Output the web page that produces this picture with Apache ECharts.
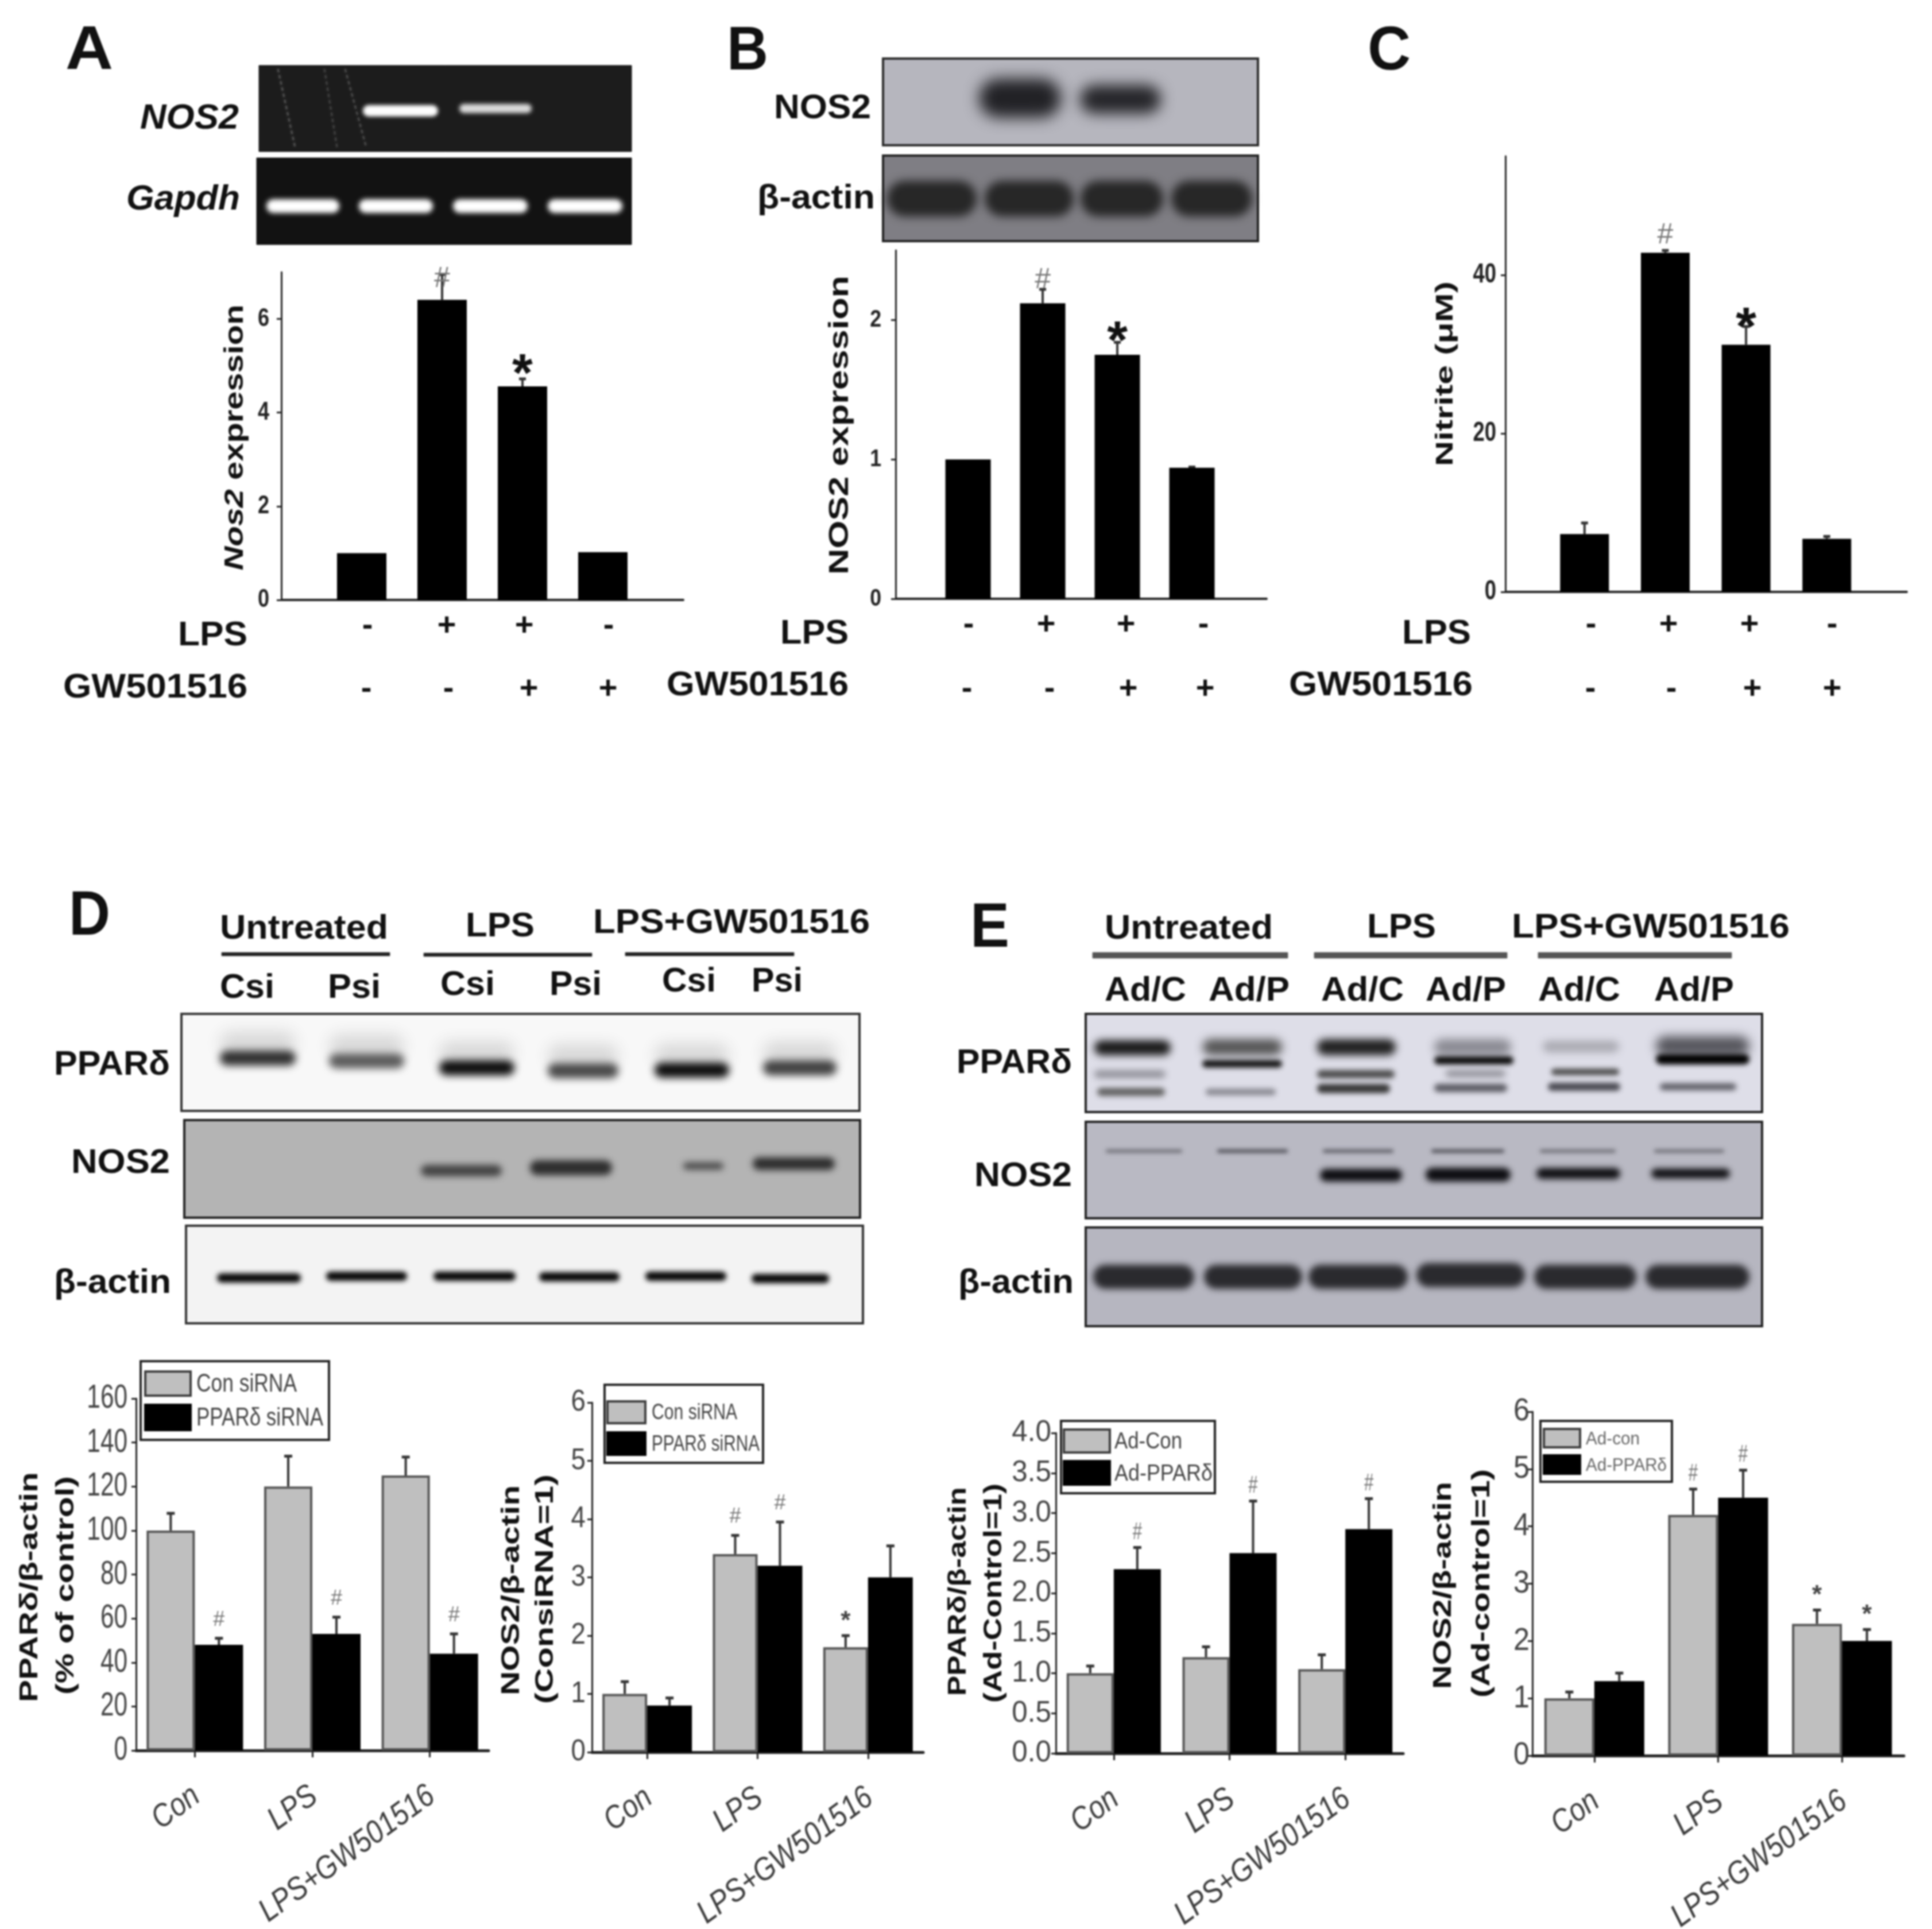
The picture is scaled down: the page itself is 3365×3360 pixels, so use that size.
<!DOCTYPE html>
<html>
<head>
<meta charset="utf-8">
<title>NOS2 figure</title>
<script src="https://cdn.jsdelivr.net/npm/echarts@6/dist/echarts.min.js"></script>
<style>
  html, body { margin: 0; padding: 0; background: #fff; }
  #main { width: 3365px; height: 3360px; }
  /* the source figure is an upscaled, soft image */
  #main canvas { filter: blur(1.4px); }
</style>
</head>
<body>
<div id="main"></div>
<script>
// values
const groupNames = ['Con', 'LPS', 'LPS+GW501516'];
const lpsSigns = ['-', '+', '+', '-'];
const gwSigns = ['-', '-', '+', '+'];

const nos2mrna = [1, 6.41, 4.56, 1.02];
const nos2mrnaErr = [1, 6.95, 4.72, 1.02];
const nos2mrnaMarks = ['', '#', '*', ''];
const nos2mrnaTicks = [0, 2, 4, 6];

const nos2prot = [1, 2.12, 1.75, 0.94];
const nos2protErr = [1, 2.22, 1.84, 0.945];
const nos2protMarks = ['', '#', '*', ''];
const nos2protTicks = [0, 1, 2];

const nitrite = [7.3, 42.8, 31.2, 6.7];
const nitriteErr = [8.7, 43.1, 33.5, 7.0];
const nitriteMarks = ['', '#', '*', ''];
const nitriteTicks = [0, 20, 40];

const d1Con = [100, 120, 125];
const d1ConErr = [107.8, 133.8, 133.4];
const d1Ppar = [48, 53, 44];
const d1ParErr = [51, 60.6, 53];
const d1ParMarks = ['#', '#', '#'];
const d1Ticks = [0, 20, 40, 60, 80, 100, 120, 140, 160];

const d2Con = [1, 3.4, 1.8];
const d2ConErr = [1.21, 3.72, 2.0];
const d2ConMarks = ['', '#', '*'];
const d2Ppar = [0.8, 3.2, 3.0];
const d2ParErr = [0.93, 3.95, 3.54];
const d2ParMarks = ['', '#', ''];
const d2Ticks = [0, 1, 2, 3, 4, 5, 6];

const e1Con = [1, 1.2, 1.05];
const e1ConErr = [1.09, 1.33, 1.23];
const e1Ppar = [2.3, 2.5, 2.8];
const e1ParErr = [2.57, 3.15, 3.18];
const e1ParMarks = ['#', '#', '#'];
const e1Ticks = [0, 0.5, 1, 1.5, 2, 2.5, 3, 3.5, 4];

const e2Con = [1, 4.2, 2.3];
const e2ConErr = [1.11, 4.65, 2.54];
const e2ConMarks = ['', '#', '*'];
const e2Ppar = [1.3, 4.5, 2.0];
const e2ParErr = [1.44, 4.98, 2.2];
const e2ParMarks = ['', '#', '*'];
const e2Ticks = [0, 1, 2, 3, 4, 5, 6];

const SANS = '"Liberation Sans", Arial, sans-serif';
const OFF = 6000; // band rect sits off canvas, only its blurred shadow shows

const ctx = document.createElement('canvas').getContext('2d');
const graphics = [];

// text stretched to the width it has in the figure
function label(str, x1, x2, cy, o) {
  o = o || {};
  const size = o.size || 60;
  const font = (o.italic ? 'italic ' : '') + (o.weight || 'bold') + ' ' + size + 'px ' + SANS;
  ctx.font = font;
  const w = ctx.measureText(str).width;
  graphics.push({
    type: 'text', silent: true, z: 20,
    x: (x1 + x2) / 2, y: cy + 4, scaleX: (x2 - x1) / w, rotation: 0,
    style: { text: str, font: font, fill: o.color || '#111', align: 'center', verticalAlign: 'middle' }
  });
}

// rotated y title, y1 is the top end
function vlabel(str, cx, y1, y2, size, color) {
  const font = 'bold ' + size + 'px ' + SANS;
  ctx.font = font;
  const w = ctx.measureText(str).width;
  graphics.push({
    type: 'text', silent: true, z: 20,
    x: cx, y: (y1 + y2) / 2, scaleX: (y2 - y1) / w, rotation: Math.PI / 2,
    style: { text: str, font: font, fill: color || '#111', align: 'center', verticalAlign: 'middle' }
  });
}

function box(x1, y1, x2, y2, fill, stroke, lw, z) {
  graphics.push({
    type: 'rect', silent: true, z: z || 1,
    shape: { x: x1, y: y1, width: x2 - x1, height: y2 - y1 },
    style: { fill: fill, stroke: stroke === undefined ? '#222' : stroke, lineWidth: lw === undefined ? 4 : lw }
  });
}

// one gel band: only the blurred shadow of a rounded bar
function band(x1, x2, yc, h, color, blur, alpha) {
  graphics.push({
    type: 'rect', silent: true, z: 2,
    shape: { x: x1 - OFF, y: yc - h / 2, width: x2 - x1, height: h, r: h / 2 },
    style: {
      fill: color, shadowBlur: blur === undefined ? 12 : blur, shadowColor: color,
      shadowOffsetX: OFF, opacity: alpha === undefined ? 1 : alpha
    }
  });
}

function streak(x1, y1, x2, y2, color) {
  graphics.push({
    type: 'line', silent: true, z: 2,
    shape: { x1: x1, y1: y1, x2: x2, y2: y2 },
    style: { stroke: color, lineWidth: 3, lineDash: [6, 5], shadowBlur: 4, shadowColor: color }
  });
}

function hline(x1, x2, y, lw, color) {
  graphics.push({
    type: 'rect', silent: true, z: 3,
    shape: { x: x1, y: y - lw / 2, width: x2 - x1, height: lw },
    style: { fill: color, shadowBlur: 2, shadowColor: color }
  });
}

function signRow(signs, xs, y) {
  signs.forEach(function (s, i) {
    graphics.push({
      type: 'text', silent: true, z: 20, x: xs[i], y: y,
      style: { text: s, font: 'bold 56px ' + SANS, fill: '#111', align: 'center', verticalAlign: 'middle' }
    });
  });
}

function drawLegend(o) {
  box(o.box[0], o.box[1], o.box[2], o.box[3], '#fff', '#222', 4, 15);
  o.rows.forEach(function (r, i) {
    graphics.push({
      type: 'rect', silent: true, z: 16,
      shape: { x: o.swatch[0], y: r[0], width: o.swatch[1] - o.swatch[0], height: r[1] - r[0] },
      style: i === 0 ? { fill: '#bfbfbf', stroke: '#3c3c3c', lineWidth: 4 } : { fill: '#000', stroke: '#000', lineWidth: 4 }
    });
    label(o.names[i], o.textX, o.textEnd[i], (r[0] + r[1]) / 2 - 2, { size: o.size, weight: 'normal', color: o.color });
  });
}

// panel letters
label('A', 114, 197, 86, { size: 108 });
label('B', 1266, 1338, 87, { size: 108 });
label('C', 2382, 2457, 87, { size: 108 });
label('D', 120, 192, 1594, { size: 110 });
label('E', 1690, 1758, 1615, { size: 110 });

// panel A gels
box(451, 114, 1100, 264, '#1c1c1c', '#111', 1);
box(447, 275, 1100, 426, '#121212', '#111', 1);
streak(484, 120, 514, 257, '#4a4a4a');
streak(565, 120, 587, 257, '#3c3c3c');
streak(601, 120, 638, 257, '#444');
band(632, 763, 193, 20, '#fff', 6);
band(800, 926, 189, 16, '#ddd', 7);
[[464, 591], [625, 754], [789, 919], [954, 1084]].forEach(function (b) {
  band(b[0], b[1], 359, 24, '#fff', 8);
});
label('NOS2', 244, 416, 203, { size: 62, italic: true });
label('Gapdh', 220, 418, 344, { size: 62, italic: true });
label('LPS', 310, 431, 1103, { size: 60 });
label('GW501516', 110, 431, 1194, { size: 60 });
signRow(lpsSigns, [640, 778, 913, 1060], 1091);
signRow(gwSigns, [638, 781, 921, 1059], 1201);
(function () {
  const size = 46;
  ctx.font = 'italic bold ' + size + 'px ' + SANS;
  let w = ctx.measureText('Nos2').width;
  ctx.font = 'bold ' + size + 'px ' + SANS;
  w += ctx.measureText(' expression').width;
  graphics.push({
    type: 'text', silent: true, z: 20, x: 410, y: 762, scaleX: 463 / w, rotation: Math.PI / 2,
    style: {
      text: '{i|Nos2}{b| expression}', align: 'center', verticalAlign: 'middle',
      rich: {
        i: { fontFamily: SANS, fontStyle: 'italic', fontWeight: 'bold', fontSize: size, fill: '#111' },
        b: { fontFamily: SANS, fontWeight: 'bold', fontSize: size, fill: '#111' }
      }
    }
  });
})();

// panel B blots
box(1538, 102, 2191, 253, '#b6b6be', '#2a2a2a', 4);
box(1538, 271, 2191, 420, '#7f7e84', '#222', 4);
band(1705, 1848, 171, 68, '#222226', 26);
band(1881, 2022, 173, 50, '#26262a', 24);
[[1545, 1701], [1715, 1870], [1882, 2026], [2040, 2181]].forEach(function (b) {
  band(b[0], b[1], 346, 62, '#272727', 16);
});
label('NOS2', 1348, 1517, 185, { size: 60 });
label('β-actin', 1319, 1524, 342, { size: 60 });
label('LPS', 1359, 1478, 1100, { size: 60 });
label('GW501516', 1161, 1478, 1190, { size: 60 });
signRow(lpsSigns, [1687, 1822, 1961, 2096], 1089);
signRow(gwSigns, [1684, 1828, 1965, 2099], 1201);
vlabel('NOS2 expression', 1464, 480, 1001, 48);

// panel C
label('LPS', 2442, 2562, 1100, { size: 60 });
label('GW501516', 2245, 2565, 1190, { size: 60 });
signRow(lpsSigns, [2771, 2906, 3047, 3191], 1089);
signRow(gwSigns, [2770, 2911, 3052, 3191], 1201);
vlabel('Nitrite (μM)', 2518, 490, 812, 42);

// panel D blots
label('Untreated', 383, 676, 1614, { size: 60 });
label('LPS', 811, 931, 1610, { size: 60 });
label('LPS+GW501516', 1033, 1515, 1604, { size: 60 });
hline(386, 679, 1662, 6, '#222');
hline(738, 1031, 1663, 6, '#222');
hline(1089, 1383, 1662, 6, '#222');
[['Csi', 383, 478, 1717], ['Psi', 571, 663, 1717], ['Csi', 767, 862, 1712],
  ['Psi', 957, 1048, 1712], ['Csi', 1153, 1247, 1706], ['Psi', 1309, 1398, 1706]].forEach(function (t) {
  label(t[0], t[1], t[2], t[3], { size: 60 });
});
box(316, 1766, 1497, 1935, '#f8f8f8', '#333', 4);
box(321, 1951, 1498, 2121, '#b4b4b4', '#222', 4);
box(324, 2135, 1503, 2305, '#f3f3f3', '#333', 4);
[[383, 515, 1843, '#303030'], [573, 704, 1848, '#5c5c5c'], [765, 896, 1860, '#0c0c0c'],
  [954, 1077, 1865, '#484848'], [1140, 1270, 1864, '#0c0c0c'], [1329, 1457, 1860, '#404040']].forEach(function (b) {
  band(b[0], b[1], b[2] - 26, 40, '#d8d8d8', 26);
  band(b[0], b[1], b[2], 26, b[3], 14);
});
[[733, 874, 2039, 20, '#444'], [923, 1066, 2034, 26, '#2e2e2e'], [1190, 1260, 2031, 12, '#444'],
  [1311, 1454, 2027, 22, '#2e2e2e']].forEach(function (b) {
  band(b[0], b[1], b[2], b[3], b[4], 12);
});
[[378, 524, 2226], [568, 709, 2223], [755, 898, 2223], [939, 1079, 2224], [1124, 1265, 2223], [1309, 1444, 2227]].forEach(function (b) {
  band(b[0], b[1], b[2], 16, '#060606', 8);
});
label('PPARδ', 94, 296, 1851, { size: 60 });
label('NOS2', 124, 296, 2022, { size: 60 });
label('β-actin', 94, 298, 2231, { size: 60 });

// panel E blots
label('Untreated', 1924, 2217, 1614, { size: 60 });
label('LPS', 2381, 2501, 1612, { size: 60 });
label('LPS+GW501516', 2633, 3117, 1612, { size: 60 });
hline(1903, 2243, 1664, 10, '#555');
hline(2289, 2625, 1664, 10, '#555');
hline(2679, 3016, 1664, 10, '#555');
[['Ad/C', 1924, 2066], ['Ad/P', 2105, 2246], ['Ad/C', 2301, 2445],
  ['Ad/P', 2483, 2623], ['Ad/C', 2679, 2822], ['Ad/P', 2881, 3020]].forEach(function (t) {
  label(t[0], t[1], t[2], 1722, { size: 60 });
});
box(1891, 1766, 3069, 1937, '#dedee8', '#222', 4);
box(1891, 1954, 3069, 2122, '#b9b9c3', '#222', 4);
box(1891, 2138, 3069, 2310, '#b6b6c0', '#222', 4);
[[2095, 2233, 1824, 28, '#555', 16], [2498, 2632, 1824, 28, '#8a8a92', 16], [2884, 3047, 1822, 34, '#55555c', 18],
  [1906, 2039, 1825, 26, '#1a1a1a', 14], [2294, 2431, 1824, 28, '#222', 14], [2687, 2820, 1823, 20, '#aaaab2', 14],
  [2094, 2233, 1853, 13, '#111', 8], [2498, 2636, 1847, 14, '#0a0a0a', 8], [2884, 3047, 1845, 18, '#020202', 9],
  [1906, 2030, 1871, 13, '#8e8e96', 12], [2294, 2429, 1871, 14, '#484848', 10], [2518, 2622, 1870, 12, '#8e8e96', 12],
  [2702, 2820, 1867, 11, '#484848', 9],
  [1911, 2029, 1902, 14, '#606060', 10], [2100, 2222, 1902, 11, '#84848c', 10], [2294, 2421, 1896, 16, '#383838', 9],
  [2498, 2625, 1895, 14, '#585860', 10], [2696, 2822, 1893, 14, '#484850', 9], [2891, 3024, 1893, 12, '#5c5c64', 10]].forEach(function (b) {
  band(b[0], b[1], b[2], b[3], b[4], b[5]);
});
[[1926, 2059, '#6e6e76'], [2120, 2243, '#4c4c54'], [2304, 2427, '#5c5c64'], [2493, 2620, '#4c4c54'],
  [2682, 2814, '#6e6e76'], [2881, 3003, '#6e6e76']].forEach(function (b) {
  band(b[0], b[1], 2005, 6, b[2], 7);
});
[[2299, 2442, 2047, 22], [2483, 2631, 2046, 24], [2676, 2822, 2044, 19], [2876, 3013, 2044, 17]].forEach(function (b) {
  band(b[0], b[1], b[2], b[3], '#0e0e12', 11);
});
[[1904, 2080, 2224], [2097, 2268, 2224], [2279, 2452, 2224], [2467, 2656, 2221], [2672, 2850, 2224], [2866, 3047, 2224]].forEach(function (b) {
  band(b[0], b[1], b[2], 42, '#2a2a2e', 12);
});
label('PPARδ', 1666, 1867, 1848, { size: 60 });
label('NOS2', 1697, 1867, 2045, { size: 60 });
label('β-actin', 1669, 1870, 2231, { size: 60 });

// y titles of the lower bar charts
vlabel('PPARδ/β-actin', 53, 2564, 2965, 44);
vlabel('(% of control)', 116, 2571, 2952, 44);
vlabel('NOS2/β-actin', 892, 2587, 2953, 44);
vlabel('(ConsiRNA=1)', 951, 2568, 2968, 44);
vlabel('PPARδ/β-actin', 1670, 2590, 2954, 44);
vlabel('(Ad-Control=1)', 1732, 2584, 2966, 44);
vlabel('NOS2/β-actin', 2515, 2581, 2942, 44);
vlabel('(Ad-control=1)', 2582, 2559, 2957, 44);

// legends
drawLegend({
  box: [245, 2371, 573, 2508], swatch: [253, 332], rows: [[2389, 2431], [2447, 2491]],
  names: ['Con siRNA', 'PPARδ siRNA'], textX: 342, textEnd: [517, 563], size: 44, color: '#444'
});
drawLegend({
  box: [1053, 2412, 1329, 2548], swatch: [1058, 1124], rows: [[2441, 2479], [2495, 2534]],
  names: ['Con siRNA', 'PPARδ siRNA'], textX: 1135, textEnd: [1284, 1323], size: 38, color: '#444'
});
drawLegend({
  box: [1848, 2475, 2116, 2601], swatch: [1853, 1933], rows: [[2490, 2530], [2545, 2586]],
  names: ['Ad-Con', 'Ad-PPARδ'], textX: 1941, textEnd: [2059, 2112], size: 40, color: '#444'
});
drawLegend({
  box: [2683, 2475, 2912, 2581], swatch: [2689, 2752], rows: [[2489, 2521], [2535, 2567]],
  names: ['Ad-con', 'Ad-PPARδ'], textX: 2762, textEnd: [2856, 2903], size: 32, color: '#666'
});

const grids = [];
const xAxes = [];
const yAxes = [];
const series = [];

// y tick labels squeezed like the originals, placed through the y scale
function tickTexts(idx, ticks, o) {
  series.push({
    type: 'custom', xAxisIndex: idx, yAxisIndex: idx, z: 4, silent: true, clip: false,
    encode: { x: 0, y: 1 },
    data: ticks.map(function (t) { return [0, t]; }),
    renderItem: function (params, api) {
      const y = api.coord([0, api.value(1)])[1];
      const v = api.value(1);
      return {
        type: 'text', x: o.right, y: y, scaleX: o.scale,
        style: {
          text: o.fixed ? v.toFixed(1) : String(v), fill: o.color, align: 'right', verticalAlign: 'middle',
          font: o.weight + ' ' + o.size + 'px ' + SANS
        }
      };
    }
  });
}

// rotated group names under the x axis
function groupTexts(idx) {
  series.push({
    type: 'custom', xAxisIndex: idx, yAxisIndex: idx, z: 4, silent: true, clip: false,
    encode: { x: 0, y: 1 },
    data: groupNames.map(function (n) { return [n, 0]; }),
    renderItem: function (params, api) {
      const p = api.coord([api.value(0), 0]);
      return {
        type: 'text', x: p[0] + 3, y: p[1] + 74, scaleX: 0.86, rotation: 36 * Math.PI / 180,
        style: {
          text: groupNames[params.dataIndex], fill: '#3c3c3c', align: 'right', verticalAlign: 'middle',
          font: 'italic 56px ' + SANS
        }
      };
    }
  });
}

function addYAxis(max, ticks) {
  yAxes.push({
    type: 'value', gridIndex: yAxes.length, min: 0, max: max,
    splitLine: { show: false },
    axisLine: { show: true, onZero: false, lineStyle: { color: '#222', width: 3 } },
    axisTick: { show: true, length: 8, lineStyle: { color: '#222', width: 3 }, customValues: ticks },
    axisLabel: { show: false, customValues: ticks }
  });
}

// whiskers and the # / * signs above them
function whiskers(gridIdx, xs, tops, vals, marks, o) {
  series.push({
    type: 'custom', xAxisIndex: gridIdx, yAxisIndex: gridIdx, z: 1, silent: true, clip: false,
    encode: { x: 0, y: [1, 2] },
    data: xs.map(function (x, i) { return [x, vals[i], tops[i]]; }),
    renderItem: function (params, api) {
      const from = api.coord([api.value(0), api.value(1)]);
      const to = api.coord([api.value(0), api.value(2)]);
      const x = from[0] + (o.offset || 0);
      const kids = [];
      if (from[1] - to[1] > 1) {
        kids.push({ type: 'line', shape: { x1: x, y1: from[1], x2: x, y2: to[1] }, style: { stroke: '#333', lineWidth: 4 } });
        kids.push({ type: 'line', shape: { x1: x - o.cap, y1: to[1], x2: x + o.cap, y2: to[1] }, style: { stroke: '#333', lineWidth: 5 } });
      }
      const m = marks && marks[params.dataIndex];
      if (m) {
        const star = m === '*';
        const size = star ? o.starSize : o.hashSize;
        kids.push({
          type: 'text', x: x, y: to[1] - (star ? o.starGap : o.hashGap) + (star ? size * 0.22 : 0),
          scaleX: star ? 1 : (o.hashScale || 1),
          style: {
            text: m, fill: star ? o.starColor : '#777', align: 'center', verticalAlign: 'middle',
            font: (star ? 'bold ' : '') + size + 'px ' + SANS
          }
        });
      }
      return { type: 'group', children: kids };
    }
  });
}

// panels A, B, C: four black bars
function addSingle(g, vals, errs, marks, ticks, o) {
  const idx = grids.length;
  grids.push({ left: g.left, top: g.top, width: g.width, height: g.height, containLabel: false });
  xAxes.push({
    type: 'value', gridIndex: idx, min: g.xmin, max: g.xmax,
    splitLine: { show: false }, axisTick: { show: false }, axisLabel: { show: false },
    axisLine: { show: true, onZero: false, lineStyle: { color: '#222', width: 4 } }
  });
  addYAxis(g.ymax, ticks);
  const xs = vals.map(function (v, i) { return i + 1; });
  series.push({
    type: 'bar', xAxisIndex: idx, yAxisIndex: idx, barWidth: g.barWidth, z: 2,
    itemStyle: { color: '#000' },
    data: vals.map(function (v, i) { return [xs[i], v]; })
  });
  whiskers(idx, xs, errs, vals, marks, o);
  tickTexts(idx, ticks, o.lab);
}

// panels D, E: gray and black pairs
function addPair(g, names, ticks, a, aErr, aMarks, b, bErr, bMarks, o) {
  const idx = grids.length;
  grids.push({ left: g.left, top: g.top, width: g.width, height: g.height, containLabel: false });
  xAxes.push({
    type: 'category', gridIndex: idx, data: groupNames,
    axisLine: { show: true, onZero: false, lineStyle: { color: '#222', width: 5 } },
    axisTick: { show: true, alignWithLabel: true, length: 12, lineStyle: { color: '#222', width: 3 } },
    axisLabel: { show: false, interval: 0 }
  });
  addYAxis(g.ymax, ticks);
  series.push({
    name: names[0], type: 'bar', xAxisIndex: idx, yAxisIndex: idx, barWidth: g.barWidth, barGap: '0%', z: 2,
    itemStyle: { color: '#bfbfbf', borderColor: '#555', borderWidth: 4 },
    data: a
  });
  series.push({
    name: names[1], type: 'bar', xAxisIndex: idx, yAxisIndex: idx, barWidth: g.barWidth, barGap: '0%', z: 2,
    itemStyle: { color: '#000', borderColor: '#000', borderWidth: 3 },
    data: b
  });
  whiskers(idx, groupNames, aErr, a, aMarks, Object.assign({}, o, { offset: -g.barWidth / 2 }));
  whiskers(idx, groupNames, bErr, b, bMarks, Object.assign({}, o, { offset: g.barWidth / 2 }));
  tickTexts(idx, ticks, o.lab);
  groupTexts(idx);
}

const singleMarks = { cap: 6, hashSize: 50, starSize: 92 };

addSingle({ left: 490, top: 474, width: 700, height: 571, xmin: 0, xmax: 5, ymax: 7, barWidth: 86 },
  nos2mrna, nos2mrnaErr, nos2mrnaMarks, nos2mrnaTicks,
  Object.assign({ lab: { right: 469, size: 44, scale: 0.82, color: '#222', weight: 'bold' }, hashGap: -8, starGap: 25, starColor: '#111' }, singleMarks));
addSingle({ left: 1560, top: 436, width: 646, height: 607, xmin: 0.03, xmax: 5, ymax: 2.5, barWidth: 79 },
  nos2prot, nos2protErr, nos2protMarks, nos2protTicks,
  Object.assign({ lab: { right: 1535, size: 42, scale: 0.85, color: '#222', weight: 'bold' }, hashGap: 16, starGap: 18, starColor: '#111' }, singleMarks));
addSingle({ left: 2622, top: 272, width: 699, height: 759, xmin: 0.02, xmax: 4.99, ymax: 55, barWidth: 85 },
  nitrite, nitriteErr, nitriteMarks, nitriteTicks,
  Object.assign({ lab: { right: 2606, size: 48, scale: 0.76, color: '#222', weight: 'bold' }, hashGap: 26, starGap: 14, starColor: '#111' }, singleMarks));

const pairMarks = { cap: 7, hashSize: 36, starSize: 44, hashGap: 32, starGap: 34, starColor: '#444' };
const adMarks = { cap: 7, hashSize: 42, hashScale: 0.7, starSize: 44, hashGap: 26, starGap: 34, starColor: '#444' };

addPair({ left: 237, top: 2436, width: 614, height: 613, ymax: 160, barWidth: 84 },
  ['Con siRNA', 'PPARδ siRNA'], d1Ticks, d1Con, d1ConErr, null, d1Ppar, d1ParErr, d1ParMarks,
  Object.assign({ lab: { right: 222, size: 58, scale: 0.73, color: '#444', weight: 'normal' } }, pairMarks));

addPair({ left: 1031, top: 2443, width: 577, height: 609, ymax: 6, barWidth: 78 },
  ['Con siRNA', 'PPARδ siRNA'], d2Ticks, d2Con, d2ConErr, d2ConMarks, d2Ppar, d2ParErr, d2ParMarks,
  Object.assign({ lab: { right: 1020, size: 52, scale: 0.88, color: '#444', weight: 'normal' } }, pairMarks));

addPair({ left: 1839, top: 2496, width: 605, height: 558, ymax: 4, barWidth: 82 },
  ['Ad-Con', 'Ad-PPARδ'], e1Ticks, e1Con, e1ConErr, null, e1Ppar, e1ParErr, e1ParMarks,
  Object.assign({ lab: { right: 1831, size: 52, scale: 0.95, color: '#444', weight: 'normal', fixed: true } }, adMarks));

addPair({ left: 2669, top: 2459, width: 647, height: 599, ymax: 6, barWidth: 87 },
  ['Ad-con', 'Ad-PPARδ'], e2Ticks, e2Con, e2ConErr, e2ConMarks, e2Ppar, e2ParErr, e2ParMarks,
  Object.assign({ lab: { right: 2664, size: 56, scale: 0.9, color: '#444', weight: 'normal' } }, adMarks));

const myChart = echarts.init(document.getElementById('main'), null, { renderer: 'canvas' });
myChart.setOption({
  backgroundColor: '#fff',
  animation: false,
  grid: grids,
  xAxis: xAxes,
  yAxis: yAxes,
  series: series,
  graphic: { elements: graphics }
});
</script>
</body>
</html>
